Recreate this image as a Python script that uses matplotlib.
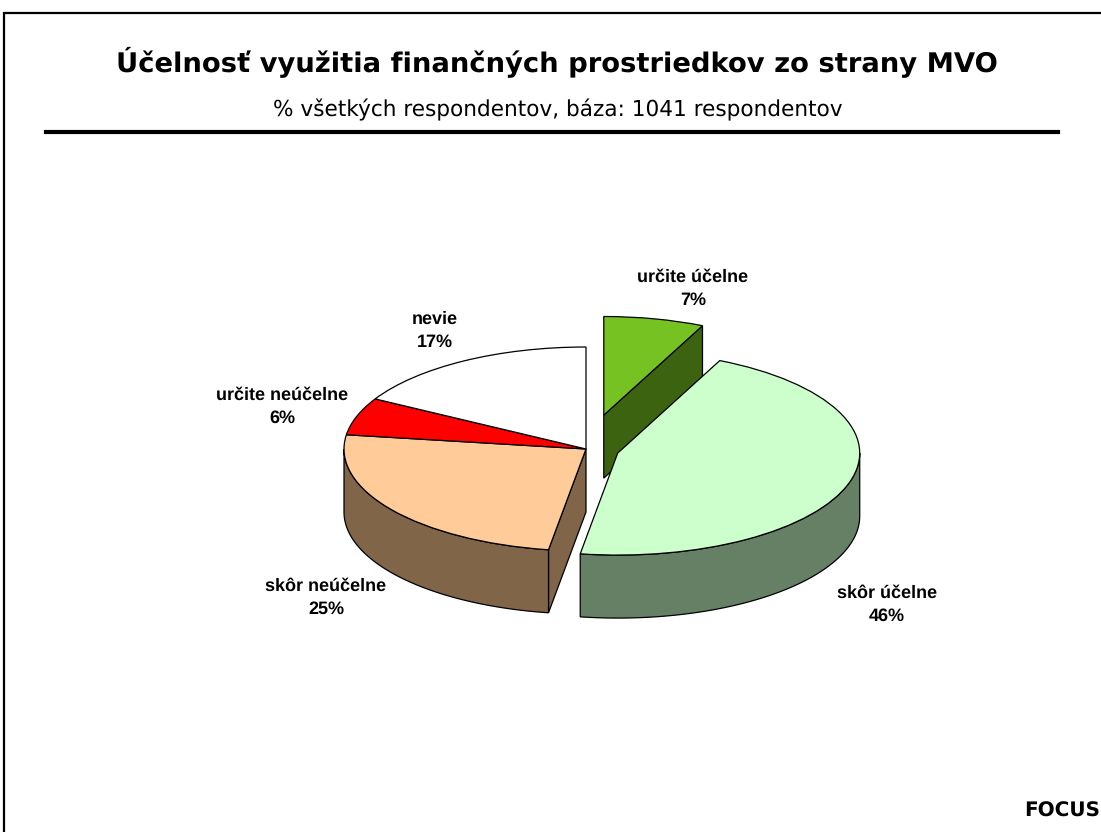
import numpy as np
import matplotlib
matplotlib.use("Agg")
import matplotlib.pyplot as plt
from matplotlib.patches import Polygon

plt.rcParams["text.hinting"] = "no_hinting"

TITLE = "Účelnosť využitia finančných prostriedkov zo strany MVO"
SUBTITLE = "% všetkých respondentov, báza: 1041 respondentov"
categories = ["určite účelne", "skôr účelne", "skôr neúčelne", "určite neúčelne", "nevie"]
values = [7, 46, 25, 6, 17]
colors = ["#76C222", "#CCFFCC", "#FFCC99", "#FF0000", "#FFFFFF"]
wall_colors = ["#3C6410", "#668066", "#806548", "#800000", "#808080"]
explode = [0.34, 0.137, 0, 0, 0]
label_px = [(693, 289), (887, 605), (326, 598), (282, 407), (435, 331)]

W, H = 1101, 832
CX, CY, RX, RY, DEPTH = 586, 449, 242, 102, 63

fig = plt.figure(figsize=(W / 100, H / 100), dpi=100, facecolor="white")
ax = fig.add_axes([0, 0, 1, 1])
wedges, _ = ax.pie(values, colors=colors, explode=explode, startangle=90, counterclock=False,
                   wedgeprops=dict(edgecolor="black", linewidth=0.9))
ax.set_aspect("auto")
ax.set_xlim(-CX / RX, (W - CX) / RX)
ax.set_ylim((CY - H) / RY, CY / RY)
ax.axis("off")
d = DEPTH / RY
wedges[0].set_radius(0.967)


def px(x, y):
    return x / W, 1 - y / H


def wall(points, color, z):
    ax.add_patch(Polygon(points, closed=True, facecolor=color, edgecolor="black", linewidth=0.9, zorder=z))


for i, w in enumerate(wedges):
    w.set_zorder(4 if i == 0 else 10)
    cx, cy = w.center
    t = np.radians(np.linspace(w.theta1, w.theta2, 200))
    xs, ys = cx + w.r * np.cos(t), cy + w.r * np.sin(t)
    lower = np.sin(t) <= 0
    if lower.any():
        top = np.column_stack([xs[lower], ys[lower]])
        bottom = top[::-1] - [0, d]
        wall(np.vstack([top, bottom]), wall_colors[i], 8)

# radial cut faces turned towards the viewer
g = wedges[0]
a = np.radians(g.theta1)
gc = np.array(g.center)
ge = gc + g.r * np.array([np.cos(a), np.sin(a)])
wall([gc, ge, ge - [0, d], gc - [0, d]], wall_colors[0], 3)
o = wedges[2]
a = np.radians(o.theta2)
oc = np.array(o.center)
oe = oc + o.r * np.array([np.cos(a), np.sin(a)])
wall([oc, oe, oe - [0, d], oc - [0, d]], wall_colors[2], 7)

for name, v, (x, y) in zip(categories, values, label_px):
    fx, fy = px(x, y)
    fig.text(fx, fy, f"{name}\n{v}%", ha="center", va="center", ma="center",
             family="Liberation Sans", fontweight="bold", fontsize=13, linespacing=1.5, color="black")

fig.text(*px(556.5, 62), TITLE, ha="center", va="center", family="DejaVu Sans", fontweight="bold", fontsize=19.7)
fig.text(*px(558, 110), SUBTITLE, ha="center", va="center", family="DejaVu Sans", fontsize=15.6)
fig.text(*px(1024, 811), "FOCUS", ha="left", va="center", family="DejaVu Sans", fontweight="bold", fontsize=14.4)

fig.add_artist(plt.Line2D([46 / W, 1058 / W], [1 - 132 / H] * 2, color="black", lw=3))
fig.add_artist(plt.Line2D([1, 4 / W, 4 / W], [1 - 13 / H, 1 - 13 / H, 0], color="black", lw=1.6, solid_joinstyle="miter"))

fig.savefig("out.png", dpi=100)
